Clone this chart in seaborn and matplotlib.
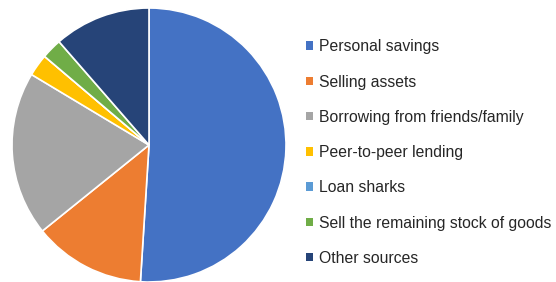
import matplotlib
matplotlib.use("Agg")
import matplotlib.pyplot as plt
import seaborn as sns
from matplotlib.patches import Patch

sources = ["Personal savings", "Selling assets", "Borrowing from friends/family",
           "Peer-to-peer lending", "Loan sharks", "Sell the remaining stock of goods",
           "Other sources"]
shares = [51.0, 13.2, 19.4, 2.6, 0.0, 2.4, 11.4]
colors = ["#4472C4", "#ED7D31", "#A5A5A5", "#FFC000", "#5B9BD5", "#70AD47", "#264478"]

sns.set_style("white")
plt.rcParams["font.family"] = ["Liberation Sans", "DejaVu Sans"]

fig = plt.figure(figsize=(5.56, 2.82), dpi=100)
ax = fig.add_axes([12 / 556, 0.0, 274 / 556, 274 / 282])

palette = sns.color_palette(colors)
wedges, _ = ax.pie(shares, colors=palette, startangle=90, counterclock=False,
                   wedgeprops=dict(edgecolor="white", linewidth=1.2))
for w in wedges:
    w.set_clip_on(False)
ax.set_xlim(-1, 1)
ax.set_ylim(-1, 1)
ax.set_aspect("equal")
ax.axis("off")

handles = [Patch(facecolor=c, edgecolor="none") for c in palette]
fig.legend(handles, sources, loc="upper left", bbox_to_anchor=(300 / 556, 1 - 33 / 282),
           frameon=False, fontsize=11.3, handlelength=0.45, handleheight=0.45,
           handletextpad=0.38, labelspacing=1.29, borderaxespad=0, labelcolor="#262626")

fig.savefig("out.png", dpi=100)
